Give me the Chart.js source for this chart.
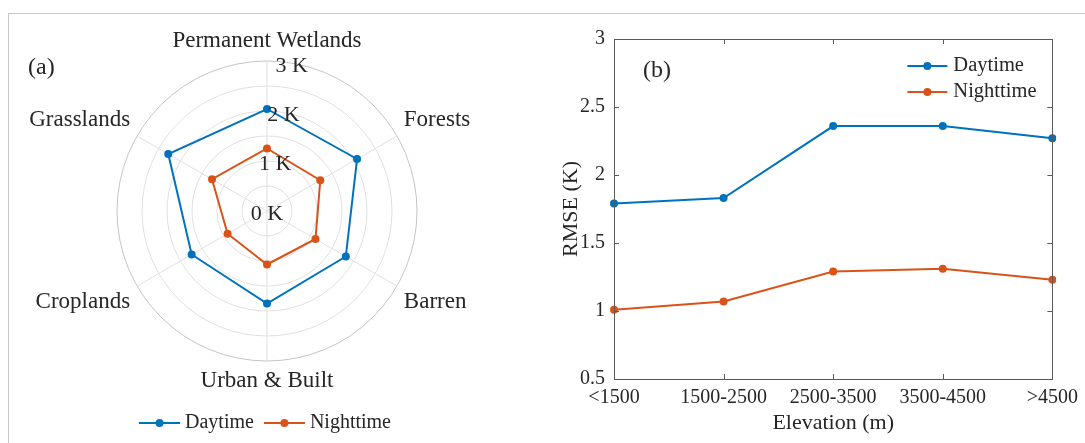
<!DOCTYPE html>
<html><head><meta charset="utf-8">
<script src="https://cdn.jsdelivr.net/npm/chart.js@4"></script>
<style>
html,body{margin:0;padding:0;background:#fff;width:1085px;height:443px;overflow:hidden;}
#frame{position:absolute;left:8px;top:13px;width:1077px;height:430px;border-top:1px solid #c8c8c8;border-left:1px solid #c8c8c8;box-sizing:border-box;}
#wa{position:absolute;left:0;top:0;width:540px;height:443px;}
#wb{position:absolute;left:540px;top:0;width:545px;height:443px;}
.pl{position:absolute;font-family:"Liberation Serif","Times New Roman",serif;font-size:24px;color:#262626;line-height:24px;white-space:nowrap;}
canvas{display:block;}
</style></head>
<body>
<div id="frame"></div>
<div id="wa"><canvas id="ca" width="540" height="443"></canvas></div>
<div id="wb"><canvas id="cb" width="545" height="443"></canvas></div>
<div class="pl" style="left:28px;top:54px">(a)</div>
<div class="pl" style="left:643px;top:57px">(b)</div>
<script>
// ---------- data ----------
const seriesNames = ['Daytime', 'Nighttime'];
const radarCategories = ['Permanent Wetlands', 'Forests', 'Barren', 'Urban & Built', 'Croplands', 'Grasslands'];
const radarDaytime   = [2.04, 2.08, 1.82, 1.85, 1.74, 2.28];
const radarNighttime = [1.25, 1.23, 1.12, 1.07, 0.91, 1.27];
const radarTickValues = [0, 1, 2, 3];
const radarTickLabels = ['0 K', '1 K', '2 K', '3 K'];
const elevationCategories = ['<1500', '1500-2500', '2500-3500', '3500-4500', '>4500'];
const elevDaytime   = [1.79, 1.83, 2.36, 2.36, 2.27];
const elevNighttime = [1.01, 1.07, 1.29, 1.31, 1.23];
const rmseTickValues = [0.5, 1, 1.5, 2, 2.5, 3];
const rmseTickLabels = ['0.5', '1', '1.5', '2', '2.5', '3'];

// ---------- style ----------
const BLUE = '#0072BD', ORANGE = '#D95319';
const TXT = '#262626', AX = '#5a5a5a';
const FAM = '"Liberation Serif", "Times New Roman", serif';
const TICK_ANGLE = 9.5 * Math.PI / 180;

function glyph(color) {
  const c = document.createElement('canvas');
  c.width = 41; c.height = 10;
  const g = c.getContext('2d');
  g.strokeStyle = color; g.lineWidth = 2;
  g.beginPath(); g.moveTo(0, 5); g.lineTo(41, 5); g.stroke();
  g.fillStyle = color; g.beginPath(); g.arc(20.5, 5, 4, 0, Math.PI * 2); g.fill();
  return c;
}
const glyphs = [glyph(BLUE), glyph(ORANGE)];

const radarText = {
  id: 'radarText',
  afterDraw(chart) {
    const s = chart.scales.r, ctx = chart.ctx;
    ctx.save();
    ctx.fillStyle = TXT;
    ctx.textBaseline = 'middle';
    ctx.textAlign = 'center';
    ctx.font = '22px ' + FAM;
    radarTickValues.forEach((v, i) => {
      const d = s.getDistanceFromCenterForValue(v);
      ctx.fillText(radarTickLabels[i], s.xCenter + d * Math.sin(TICK_ANGLE), s.yCenter - d * Math.cos(TICK_ANGLE) + 3);
    });
    ctx.font = '23px ' + FAM;
    const h = 24;
    chart.data.labels.forEach((lab, i) => {
      const p = s.getPointPosition(i, s.drawingArea + 8);
      let deg = Math.round((p.angle + Math.PI / 2) * 180 / Math.PI) % 360;
      if (deg < 0) deg += 360;
      const align = (deg === 0 || deg === 180) ? 'center' : (deg < 180 ? 'left' : 'right');
      let y = p.y;
      if (deg === 90 || deg === 270) { /* middle */ }
      else if (deg > 270 || deg < 90) y -= h / 2;
      else y += h / 2;
      ctx.textAlign = align;
      ctx.fillText(lab, p.x, y);
    });
    ctx.restore();
  }
};

new Chart(document.getElementById('ca'), {
  type: 'radar',
  data: {
    labels: radarCategories,
    datasets: [
      { label: seriesNames[0], data: radarDaytime, borderColor: BLUE, backgroundColor: BLUE, pointBackgroundColor: BLUE, fill: false },
      { label: seriesNames[1], data: radarNighttime, borderColor: ORANGE, backgroundColor: ORANGE, pointBackgroundColor: ORANGE, fill: false }
    ]
  },
  options: {
    responsive: false, animation: false,
    layout: { padding: { left: 117, right: 122, top: 24, bottom: 0 } },
    elements: { line: { borderWidth: 2, tension: 0 }, point: { radius: 4, borderWidth: 0, hoverRadius: 4 } },
    plugins: {
      tooltip: { enabled: false },
      legend: {
        position: 'bottom',
        labels: {
          usePointStyle: true, pointStyleWidth: 31, padding: 15, color: TXT,
          font: { family: FAM, size: 20 },
          generateLabels(chart) {
            const items = Chart.defaults.plugins.legend.labels.generateLabels(chart);
            items.forEach((it, i) => { it.pointStyle = glyphs[i]; it.fontColor = TXT; });
            return items;
          }
        }
      }
    },
    scales: {
      r: {
        min: 0, max: 3, startAngle: 0,
        ticks: { display: false, stepSize: 0.5 },
        grid: { circular: true, lineWidth: 1, color: (c) => (c.tick && c.tick.value === 3) ? '#c4c4c4' : '#e0e0e0' },
        angleLines: { color: '#e0e0e0', lineWidth: 1 },
        pointLabels: { display: false }
      }
    }
  },
  plugins: [radarText]
});

// ---------- right chart ----------
const boxTicks = {
  id: 'boxTicks',
  afterDatasetsDraw(chart) {
    const {ctx, chartArea: a} = chart;
    const xs = chart.scales.x, ys = chart.scales.y;
    const L = 5;
    ctx.save();
    ctx.strokeStyle = AX; ctx.lineWidth = 1;
    ctx.beginPath();
    ctx.rect(Math.round(a.left) + 0.5, Math.round(a.top) + 0.5, Math.round(a.right) - Math.round(a.left), Math.round(a.bottom) - Math.round(a.top));
    xs.ticks.forEach((t, i) => {
      const x = Math.round(xs.getPixelForTick(i)) + 0.5;
      ctx.moveTo(x, a.bottom); ctx.lineTo(x, a.bottom - L);
      ctx.moveTo(x, a.top); ctx.lineTo(x, a.top + L);
    });
    ys.ticks.forEach((t, i) => {
      const y = Math.round(ys.getPixelForTick(i)) + 0.5;
      ctx.moveTo(a.left, y); ctx.lineTo(a.left + L, y);
      ctx.moveTo(a.right, y); ctx.lineTo(a.right - L, y);
    });
    ctx.stroke();
    ctx.restore();
  }
};

const rightLegend = {
  id: 'rightLegend',
  afterDraw(chart) {
    const {ctx, chartArea: a} = chart;
    ctx.save();
    ctx.font = '20.5px ' + FAM;
    ctx.textBaseline = 'middle'; ctx.textAlign = 'left';
    chart.data.datasets.forEach((ds, i) => {
      const y = a.top + 27 + i * 26;
      const x0 = a.right - 145;
      ctx.strokeStyle = ds.borderColor; ctx.lineWidth = 2;
      ctx.beginPath(); ctx.moveTo(x0, y); ctx.lineTo(x0 + 40, y); ctx.stroke();
      ctx.fillStyle = ds.borderColor;
      ctx.beginPath(); ctx.arc(x0 + 20, y, 4, 0, Math.PI * 2); ctx.fill();
      ctx.fillStyle = TXT;
      ctx.fillText(ds.label, x0 + 46, y);
    });
    ctx.restore();
  }
};

new Chart(document.getElementById('cb'), {
  type: 'line',
  data: {
    labels: elevationCategories,
    datasets: [
      { label: seriesNames[0], data: elevDaytime, borderColor: BLUE, backgroundColor: BLUE, pointBackgroundColor: BLUE },
      { label: seriesNames[1], data: elevNighttime, borderColor: ORANGE, backgroundColor: ORANGE, pointBackgroundColor: ORANGE }
    ]
  },
  options: {
    responsive: false, animation: false,
    layout: { padding: { left: 0, right: 31, top: 39, bottom: 0 } },
    elements: { line: { borderWidth: 2, tension: 0 }, point: { radius: 4, borderWidth: 0, hoverRadius: 4 } },
    plugins: { legend: { display: false }, tooltip: { enabled: false } },
    scales: {
      x: {
        type: 'category', offset: false,
        grid: { drawOnChartArea: false, drawTicks: false },
        border: { color: AX, width: 1 },
        ticks: { padding: 7, color: TXT, font: { family: FAM, size: 20 }, maxRotation: 0, autoSkip: false },
        title: { display: true, text: 'Elevation (m)', color: TXT, font: { family: FAM, size: 22 }, padding: { top: 0, bottom: 7 } },
        afterFit(s) { s.height = 64; }
      },
      y: {
        min: 0.5, max: 3,
        grid: { drawOnChartArea: false, drawTicks: false },
        border: { color: AX, width: 1 },
        afterBuildTicks(s) { s.ticks = rmseTickValues.map(v => ({ value: v })); },
        ticks: {
          padding: 9, color: TXT, font: { family: FAM, size: 20 },
          callback(v) { const k = rmseTickValues.indexOf(v); return k >= 0 ? rmseTickLabels[k] : ''; }
        },
        title: { display: true, text: 'RMSE (K)', color: TXT, font: { family: FAM, size: 22 }, padding: { top: 18, bottom: 0 } },
        afterFit(s) { s.width = 74; }
      }
    }
  },
  plugins: [boxTicks, rightLegend]
});
</script>
</body></html>
